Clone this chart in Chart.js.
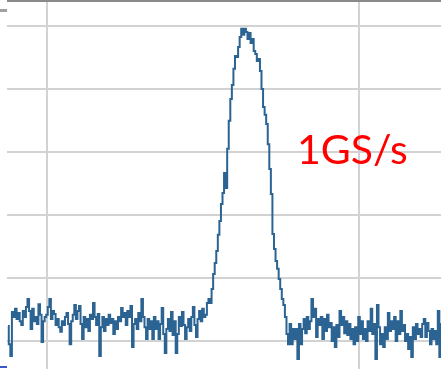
<!DOCTYPE html>
<html>
<head>
<meta charset="utf-8">
<script src="https://cdn.jsdelivr.net/npm/chart.js@4/dist/chart.umd.min.js"></script>
<style>
  html, body { margin: 0; padding: 0; background: #ffffff; overflow: hidden; width: 441px; height: 369px; }
  #wrap { position: absolute; left: 0; top: 0; width: 441px; height: 369px; overflow: hidden; }
  #scope { position: absolute; left: 0; top: 0; }
  #rate { position: absolute; left: 297px; top: 129px; font-family: Lato, "Open Sans", sans-serif; font-size: 41px; line-height: 40px; color: #ff0000; white-space: nowrap; }
  #markTop { position: absolute; left: 0; top: 9px; width: 7px; height: 3px; background: #a0a0a0; }
  #markBottom { position: absolute; left: 0; top: 366px; width: 7px; height: 2px; background: #3a56c8; }
</style>
</head>
<body>
<div id="wrap">
  <canvas id="scope" width="480" height="400"></canvas>
  <div id="markTop"></div>
  <div id="markBottom"></div>
  <div id="rate">1GS/s</div>
</div>
<script>
// Sample times (ns), one sample per ns at 1 GS/s
const startTime = 75;
// Captured amplitude per sample (mV)
const amplitude = [
  4.8, -1.0, -4.8, 9.2, 7.6, 10.2, 7.0, 8.9, 6.3, 5.1,
  9.5, 7.6, 10.8, 13.3, 9.5, 3.8, 10.2, 6.3, 7.6, 5.4,
  11.7, 8.3, -0.3, 6.3, 7.6, 8.3, 10.8, 13.3, 7.0, 9.5,
  8.6, 5.1, 7.0, 4.4, 2.9, 6.3, 5.1, 7.6, 8.9, 5.4,
  -1.0, 6.3, 8.3, 11.4, 7.0, 9.5, 11.1, 5.4, 0.6, 7.6,
  4.4, 7.0, 3.2, 8.3, 7.0, 12.1, 7.6, 5.1, 8.6, -4.8,
  4.4, 7.6, 3.2, 7.0, 5.1, 8.3, 5.7, 7.0, 2.2, 6.3,
  3.8, 7.6, 6.3, 10.5, 7.6, 8.9, 5.1, 9.5, 7.6, 11.1,
  -1.9, 5.4, 7.0, 3.8, 8.9, 6.3, 13.3, 7.6, 4.4, 0.6,
  7.0, 3.8, 6.3, 0.6, 7.6, 3.8, 6.3, 0.6, 5.4, 10.5,
  2.2, -3.8, 3.8, 7.0, 3.2, 9.2, 1.9, 6.3, -3.8, 2.2,
  7.6, 4.8, 9.2, 5.1, 0.6, 4.4, 7.0, 3.2, 7.6, 10.8,
  5.1, 1.3, 7.0, 9.5, 6.3, 10.2, 7.6, 8.3, 12.1, 13.3,
  12.1, 16.5, 21.3, 24.8, 28.6, 33.7, 38.1, 43.5, 47.0, 53.3,
  48.6, 61.0, 69.9, 76.8, 81.3, 86.4, 90.5, 90.2, 93.3, 96.5,
  99.1, 97.2, 99.1, 98.1, 95.9, 97.8, 94.6, 95.9, 92.1, 91.1,
  88.9, 89.5, 85.7, 80.0, 74.3, 71.8, 68.9, 62.5, 54.6, 46.7,
  34.0, 29.2, 25.4, 22.9, 19.7, 16.5, 13.3, 11.4, 7.6, 2.2,
  -1.0, 5.4, -1.0, 3.8, 0.6, 3.8, -5.7, 5.4, -1.0, 3.8,
  7.0, 2.5, 7.6, 3.8, 6.3, 13.3, 7.6, 10.2, 1.3, 7.0,
  5.1, 7.6, 0.6, 7.0, 3.2, 8.3, 4.4, 5.7, 0.0, 4.4,
  -1.9, 5.1, 1.3, 9.5, 5.1, 7.6, 2.5, 6.3, 1.9, 5.4,
  0.6, 3.8, -1.0, 4.4, 0.0, 7.6, 2.2, 6.3, 0.6, 3.8,
  0.0, 6.3, 3.2, 10.2, 2.2, 5.4, -5.7, 11.4, 4.4, -1.0,
  2.2, -1.9, 4.4, 0.6, 8.9, 3.2, 6.3, 3.8, 7.6, 0.0,
  6.3, 2.2, 9.5, 3.2, 5.1, 0.0, 2.2, -2.5, 1.3, -5.1,
  4.4, 0.6, 5.4, 2.2, 3.8, 1.3, 5.4, 7.0, 1.3, 5.7,
  3.2, -1.0, 3.8, 0.6, 3.2, -1.0, 9.5, -5.1, 5.4, 3.8,
  7.0
];
// Grid positions
const timeTicks = [100, 300];
const amplitudeTicks = [0, 20, 40, 60, 80, 100];
// Visible window of the scope display
const timeMin = 74.36, timeMax = 377.56;
const ampMin = -18.73, ampMax = 107.94;

const points = amplitude.map((v, i) => ({ x: startTime + i, y: v }));

new Chart(document.getElementById('scope'), {
  type: 'line',
  data: {
    datasets: [{
      data: points,
      borderColor: '#2b6392',
      borderWidth: 2,
      pointRadius: 0,
      stepped: 'middle',
      fill: false
    }]
  },
  options: {
    responsive: false,
    devicePixelRatio: 1,
    animation: false,
    events: [],
    layout: { padding: { left: 7, top: 1, right: 0, bottom: 0 } },
    plugins: { legend: { display: false }, tooltip: { enabled: false }, title: { display: false } },
    scales: {
      x: {
        type: 'linear',
        min: timeMin,
        max: timeMax,
        afterBuildTicks: axis => { axis.ticks = timeTicks.map(v => ({ value: v })); },
        ticks: { display: false },
        border: { display: false },
        grid: { color: '#d2d2d2', lineWidth: 2, drawTicks: false }
      },
      y: {
        type: 'linear',
        min: ampMin,
        max: ampMax,
        afterBuildTicks: axis => { axis.ticks = amplitudeTicks.concat([ampMax]).map(v => ({ value: v })); },
        ticks: { display: false },
        border: { display: false },
        grid: {
          color: c => (c.tick && c.tick.value === ampMax) ? '#8a8a8a' : '#d2d2d2',
          lineWidth: 2,
          drawTicks: false
        }
      }
    }
  }
});
</script>
</body>
</html>
